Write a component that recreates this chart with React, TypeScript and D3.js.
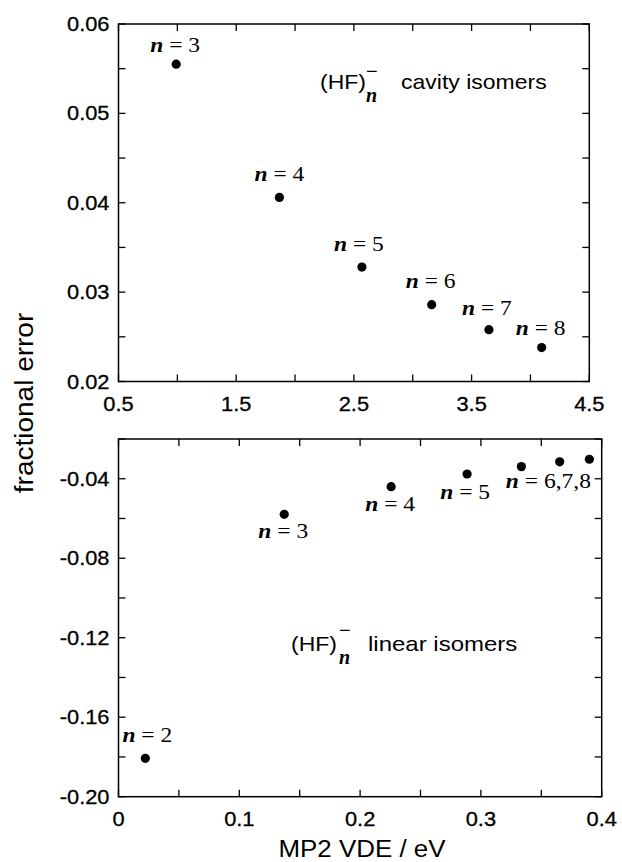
import React from "react";
import * as d3 from "d3";

// ---- data ----
const cavityN = [3, 4, 5, 6, 7, 8];
const cavityVDE = [0.99, 1.867, 2.568, 3.161, 3.647, 4.095];
const cavityErr = [0.0555, 0.0406, 0.0328, 0.0286, 0.0258, 0.0238];
const cavityLabels = ["3", "4", "5", "6", "7", "8"];

const linearN = [2, 3, 4, 5, 6, 7, 8];
const linearVDE = [0.0222, 0.1372, 0.2257, 0.2886, 0.3335, 0.3652, 0.3898];
const linearErr = [-0.1807, -0.0579, -0.044, -0.0376, -0.0339, -0.0315, -0.0302];
const linearLabels = ["2", "3", "4", "5", "6,7,8"];

const topXTickLabels = [0.5, 1.5, 2.5, 3.5, 4.5];
const topYTickLabels = [0.02, 0.03, 0.04, 0.05, 0.06];
const botXTickLabels = [0, 0.1, 0.2, 0.3, 0.4];
const botYTickLabels = [-0.2, -0.16, -0.12, -0.08, -0.04];

// ---- layout ----
const W = 622, H = 862;
const left = 118.5;
const top1 = { x0: left, x1: 589.3, y0: 24, y1: 381.5 };
const bot1 = { x0: left, x1: 601.7, y0: 439, y1: 796.7 };
const TICK = 7;
const SX = 1.12; // horizontal text stretch of the reference
const sans = "'Liberation Sans', Arial, Helvetica, sans-serif";
const serif = "'Liberation Serif', 'Times New Roman', serif";

// label offsets relative to points (pixel dx, dy to baseline)
const cavityLabelOff = [[-1, -12.5], [0, -16.5], [-3, -16.5], [-1, -16.5], [-2, -15], [-1, -12.5]];
const linearLabelPts = [0, 1, 2, 3, 4];
const linearLabelOff = [[2, -16.6], [-1, 24], [-1, 24], [-2, 25], [27, 21.6]];

function SText({ x, y, sx = SX, anchor = "start", children, ...rest }: any) {
  return (
    <text transform={`translate(${x},${y}) scale(${sx},1)`} textAnchor={anchor} fill="#000" {...rest}>
      {children}
    </text>
  );
}

function Panel({ box, xDom, yDom, xMinor, yMinor, xLabels, yLabels, xFmt, yFmt }: any) {
  const x = d3.scaleLinear().domain(xDom).range([box.x0, box.x1]);
  const y = d3.scaleLinear().domain(yDom).range([box.y1, box.y0]);
  const xt = d3.range(xDom[0], xDom[1] + xMinor / 2, xMinor);
  const yt = d3.range(yDom[0], yDom[1] + yMinor / 2, yMinor);
  return (
    <g>
      <rect x={box.x0} y={box.y0} width={box.x1 - box.x0} height={box.y1 - box.y0} fill="none" stroke="#000" strokeWidth={1.5} />
      {xt.map((v: number, i: number) => (
        <g key={"xt" + i}>
          <line x1={x(v)} x2={x(v)} y1={box.y1} y2={box.y1 - TICK} stroke="#000" strokeWidth={1.3} />
          <line x1={x(v)} x2={x(v)} y1={box.y0} y2={box.y0 + TICK} stroke="#000" strokeWidth={1.3} />
        </g>
      ))}
      {yt.map((v: number, i: number) => (
        <g key={"yt" + i}>
          <line x1={box.x0} x2={box.x0 + TICK} y1={y(v)} y2={y(v)} stroke="#000" strokeWidth={1.3} />
          <line x1={box.x1} x2={box.x1 - TICK} y1={y(v)} y2={y(v)} stroke="#000" strokeWidth={1.3} />
        </g>
      ))}
      {xLabels.map((v: number, i: number) => (
        <SText key={"xl" + i} x={x(v)} y={box.y1 + 29} anchor="middle" fontFamily={sans} fontSize={19.5}
          stroke="#000" strokeWidth={0.3}>{xFmt(v)}</SText>
      ))}
      {yLabels.map((v: number, i: number) => (
        <SText key={"yl" + i} x={box.x0 - 9} y={y(v) + 7} anchor="end" fontFamily={sans} fontSize={19.5}
          stroke="#000" strokeWidth={0.3}>{yFmt(v)}</SText>
      ))}
    </g>
  );
}

export default function App() {
  const xTop = d3.scaleLinear().domain([0.5, 4.5]).range([top1.x0, top1.x1]);
  const yTop = d3.scaleLinear().domain([0.02, 0.06]).range([top1.y1, top1.y0]);
  const xBot = d3.scaleLinear().domain([0, 0.4]).range([bot1.x0, bot1.x1]);
  const yBot = d3.scaleLinear().domain([-0.2, -0.02]).range([bot1.y1, bot1.y0]);

  const nLabel = (key: string, cx: number, by: number, s: string) => (
    <SText key={key} x={cx} y={by} anchor="middle" fontFamily={serif} fontSize={21}>
      <tspan fontStyle="italic" fontWeight="bold">n</tspan>
      <tspan> = {s}</tspan>
    </SText>
  );

  return (
    <svg width={W} height={H} style={{ position: "absolute", left: 0, top: 0, background: "#fff" }}>
      <rect x={0} y={0} width={W} height={H} fill="#fff" />
      <Panel box={top1} xDom={[0.5, 4.5]} yDom={[0.02, 0.06]} xMinor={0.5} yMinor={0.005}
        xLabels={topXTickLabels} yLabels={topYTickLabels}
        xFmt={(v: number) => v.toFixed(1)} yFmt={(v: number) => v.toFixed(2)} />
      <Panel box={bot1} xDom={[0, 0.4]} yDom={[-0.2, -0.02]} xMinor={0.05} yMinor={0.02}
        xLabels={botXTickLabels} yLabels={botYTickLabels}
        xFmt={(v: number) => (v === 0 ? "0" : v.toFixed(1))} yFmt={(v: number) => v.toFixed(2)} />

      {cavityVDE.map((v, i) => (
        <circle key={"cp" + i} cx={xTop(v)} cy={yTop(cavityErr[i])} r={4.6} fill="#000" />
      ))}
      {cavityLabels.map((s, i) =>
        nLabel("cl" + i, xTop(cavityVDE[i]) + cavityLabelOff[i][0], yTop(cavityErr[i]) + cavityLabelOff[i][1], s)
      )}

      {linearVDE.map((v, i) => (
        <circle key={"lp" + i} cx={xBot(v)} cy={yBot(linearErr[i])} r={4.6} fill="#000" />
      ))}
      {linearLabels.map((s, i) => {
        const p = linearLabelPts[i];
        return nLabel("ll" + i, xBot(linearVDE[p]) + linearLabelOff[i][0], yBot(linearErr[p]) + linearLabelOff[i][1], s);
      })}

      {/* annotations */}
      <SText x={320} y={89.3} sx={1.15} fontFamily={sans} fontSize={20}>(HF)</SText>
      <SText x={366} y={78} sx={1.0} fontFamily={sans} fontSize={20}>−</SText>
      <SText x={366} y={102} sx={1.0} fontFamily={serif} fontStyle="italic" fontWeight="bold" fontSize={20}>n</SText>
      <SText x={401} y={89.3} sx={1.15} fontFamily={sans} fontSize={20}>cavity isomers</SText>

      <SText x={291} y={650.7} sx={1.15} fontFamily={sans} fontSize={20}>(HF)</SText>
      <SText x={339} y={636.5} sx={1.0} fontFamily={sans} fontSize={20}>−</SText>
      <SText x={339} y={664} sx={1.0} fontFamily={serif} fontStyle="italic" fontWeight="bold" fontSize={20}>n</SText>
      <SText x={368} y={650.7} sx={1.2} fontFamily={sans} fontSize={20}>linear isomers</SText>

      <text transform={`translate(33,403) rotate(-90) scale(${SX},1)`} textAnchor="middle" fontFamily={sans} fontSize={25} fill="#000">fractional error</text>
      <SText x={362} y={857} sx={1.08} anchor="middle" fontFamily={sans} fontSize={24}>MP2 VDE / eV</SText>
    </svg>
  );
}
